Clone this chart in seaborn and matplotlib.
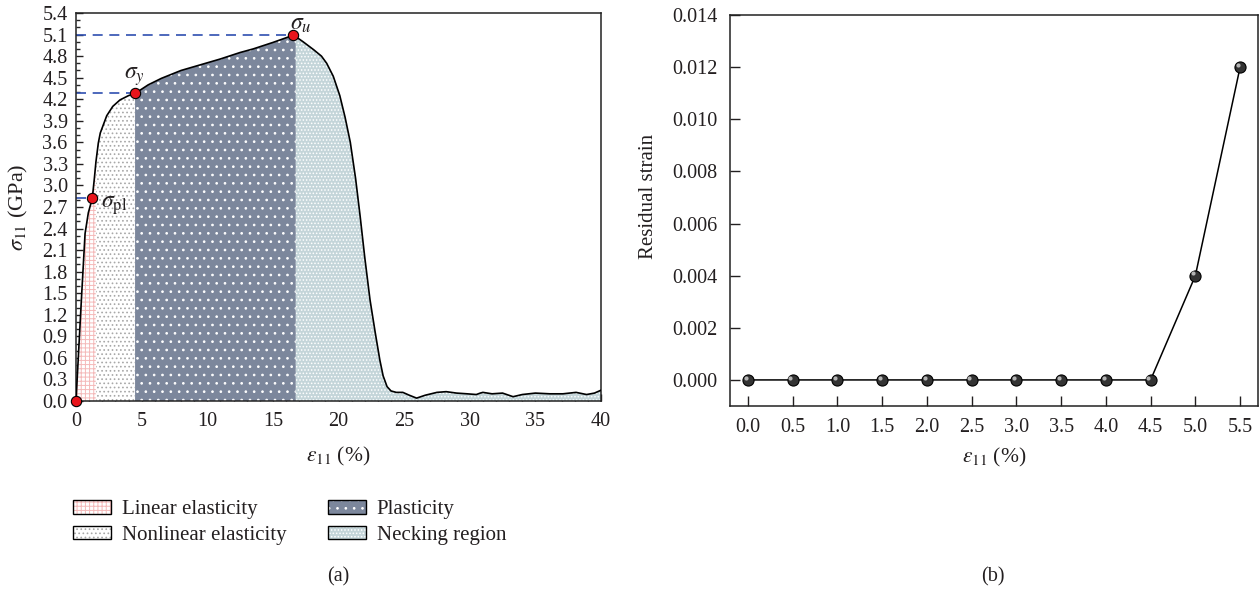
import numpy as np
import pandas as pd
import matplotlib
matplotlib.use("Agg")
import matplotlib.pyplot as plt
import matplotlib.transforms as mtransforms
import seaborn as sns
from matplotlib.patches import Patch
from matplotlib.legend_handler import HandlerTuple
from matplotlib.ticker import MultipleLocator, FormatStrFormatter

# stress-strain curve (a)
strain = [0, 0.41, 0.69, 0.94, 1.24, 1.40, 1.52, 1.70, 1.85, 2.34, 2.8, 3.35, 4.0, 4.5,
          5.5, 6.5, 8.0, 9.5, 11.0, 12.5, 13.5, 15.0, 16.55, 16.75, 17.3, 18.1, 18.7, 19.1,
          19.6, 20.1, 20.5, 20.9, 21.3, 21.65, 22.0, 22.4, 22.8, 23.15, 23.4, 23.7, 24.0,
          24.4, 24.9, 25.4, 25.95, 26.6, 27.5, 28.2, 29.0, 29.8, 30.5, 30.8, 31.0, 31.7,
          32.5, 33.3, 34.0, 35.0, 36.1, 37.1, 38.1, 38.9, 39.5, 40.0]
stress = [0, 1.41, 2.33, 2.62, 2.82, 3.10, 3.33, 3.59, 3.73, 3.97, 4.10, 4.19, 4.25, 4.28,
          4.40, 4.49, 4.60, 4.68, 4.76, 4.85, 4.90, 4.99, 5.09, 5.07, 5.00, 4.89, 4.80, 4.70,
          4.52, 4.25, 3.95, 3.60, 3.10, 2.57, 2.00, 1.41, 0.95, 0.57, 0.35, 0.20, 0.14,
          0.12, 0.12, 0.08, 0.04, 0.08, 0.12, 0.13, 0.11, 0.10, 0.09, 0.11, 0.12, 0.10,
          0.11, 0.06, 0.09, 0.11, 0.10, 0.10, 0.12, 0.09, 0.11, 0.15]
bounds = [1.52, 4.5, 16.75]   # region limits
region_names = ["Linear elasticity", "Nonlinear elasticity", "Plasticity", "Necking region"]

key_x = [0, 1.24, 4.5, 16.55]
key_y = [0, 2.82, 4.28, 5.09]
key_lbl = [None, r"$\sigma_{\mathrm{pl}}$", r"$\sigma_y$", r"$\sigma_u$"]

# residual strain (b)
eps_b = [0.0, 0.5, 1.0, 1.5, 2.0, 2.5, 3.0, 3.5, 4.0, 4.5, 5.0, 5.5]
resid = [0, 0, 0, 0, 0, 0, 0, 0, 0, 0, 0.004, 0.012]

sns.set_style("ticks")
plt.rcParams["font.family"] = ["Liberation Serif", "DejaVu Serif"]
plt.rcParams["mathtext.fontset"] = "stix"
plt.rcParams["hatch.linewidth"] = 0.7
txt = "#231f20"

fig = plt.figure(figsize=(12.59, 5.93), dpi=100)
ax1 = fig.add_axes([76/1259, 1-401/593, 525/1259, 388/593])
ax2 = fig.add_axes([730/1259, 1-406/593, 528/1259, 391/593])

df = pd.DataFrame({"strain": strain, "stress": stress})
x = df["strain"].values
y = df["stress"].values

styles = [
    dict(facecolor="white", hatch="++++", edgecolor="#f4b9b9"),
    dict(facecolor="white", hatch="....", edgecolor="#a8a8a8"),
    dict(facecolor="#7c879c", hatch="..", edgecolor="white"),
    dict(facecolor="#c4d5d9", hatch=".....", edgecolor="white"),
]
edges = [0] + bounds + [40]
for i, st in enumerate(styles):
    m = (x >= edges[i]) & (x <= edges[i+1])
    ax1.fill_between(x, 0, y, where=m, linewidth=0, zorder=1, **st)

sns.lineplot(data=df, x="strain", y="stress", ax=ax1, sort=False, color="black", lw=1.2, zorder=3)

for kx, ky in zip(key_x[1:], key_y[1:]):
    ax1.plot([0, kx], [ky, ky], color="#2f4fb0", lw=1.2, dashes=(6, 4), zorder=2)
ax1.scatter(key_x, key_y, s=55, color="#e8141b", edgecolor="black", linewidth=0.8, zorder=5, clip_on=False)
offs = [None, (6, -5), (-8, 4), (-2, 0)]
vas = [None, "center", "bottom", "bottom"]
for kx, ky, lb, of, va in zip(key_x, key_y, key_lbl, offs, vas):
    if lb is None:
        continue
    ax1.annotate(lb, (kx, ky), xytext=of, textcoords="offset points", fontsize=17,
                 color=txt, ha="left", va=va)

ax1.set_xlim(0, 40)
ax1.set_ylim(0, 5.4)
ax1.xaxis.set_major_locator(MultipleLocator(5))
ax1.xaxis.set_minor_locator(MultipleLocator(1))
ax1.yaxis.set_major_locator(MultipleLocator(0.3))
ax1.yaxis.set_minor_locator(MultipleLocator(0.1))
ax1.yaxis.set_major_formatter(FormatStrFormatter("%.1f"))
ax1.tick_params(which="major", direction="in", length=5, width=1, labelsize=14.5, colors=txt, pad=6)
ax1.tick_params(axis="x", which="major", pad=8)
ax1.tick_params(which="minor", direction="in", length=3, width=1)
ax1.set_xlabel(r"$\varepsilon_{11}$ (%)", fontsize=15.5, color=txt, labelpad=10)
ax1.set_ylabel(r"$\sigma_{11}$ (GPa)", fontsize=16, color=txt)
ax1.yaxis.set_label_coords(-0.088, 0.5)

sns.lineplot(x=eps_b, y=resid, ax=ax2, color="black", lw=1.1, marker="o", markersize=8,
             markerfacecolor="#333333", markeredgecolor="black", markeredgewidth=0.8)
# small highlight on each ball
shift = mtransforms.offset_copy(ax2.transData, fig=fig, x=-1.6, y=1.6, units="points")
ax2.plot(eps_b, resid, ls="none", marker="o", markersize=3, markerfacecolor="#b5b5b5",
         markeredgewidth=0, transform=shift, zorder=4)
ax2.set_xlim(-0.2, 5.7)
ax2.set_ylim(-0.001, 0.014)
ax2.set_xticks(eps_b)
ax2.xaxis.set_major_formatter(FormatStrFormatter("%.1f"))
ax2.yaxis.set_major_locator(MultipleLocator(0.002))
ax2.yaxis.set_major_formatter(FormatStrFormatter("%.3f"))
ax2.tick_params(direction="in", length=7, width=1, labelsize=14.5, colors=txt, pad=9)
ax2.set_xlabel(r"$\varepsilon_{11}$ (%)", fontsize=15.5, color=txt, labelpad=6)
ax2.set_ylabel("Residual strain", fontsize=15, color=txt)
ax2.yaxis.set_label_coords(-0.136, 0.535)

for ax in (ax1, ax2):
    for sp in ax.spines.values():
        sp.set_visible(True)
        sp.set_linewidth(1.1)
        sp.set_color("#222222")

handles = []
for st in styles:
    h1 = Patch(linewidth=0, **st)
    h2 = Patch(facecolor="none", edgecolor="black", linewidth=1)
    handles.append((h1, h2))
fig.legend(handles, region_names, ncol=2, loc="upper left", bbox_to_anchor=(63/1259, 1-490/593),
           frameon=False, fontsize=15, handlelength=1.8, handleheight=0.6, handletextpad=0.53,
           columnspacing=2.0, labelspacing=0.3, borderpad=0,
           handler_map={tuple: HandlerTuple(ndivide=1, pad=0)}, labelcolor=txt)

fig.text(338/1259, 1-577/593, "(a)", fontsize=14.5, ha="center", va="center", color=txt)
fig.text(993/1259, 1-577/593, "(b)", fontsize=14.5, ha="center", va="center", color=txt)

fig.savefig("out.png", dpi=100)
